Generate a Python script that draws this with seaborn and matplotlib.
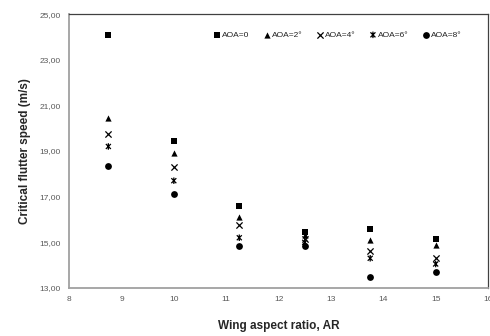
import matplotlib
matplotlib.use("Agg")
import matplotlib.pyplot as plt
from matplotlib.path import Path
import seaborn as sns
import pandas as pd

# wing aspect ratio and critical flutter speed (m/s) for each AOA
ar = [8.75, 10, 11.25, 12.5, 13.75, 15]
aoa0 = [24.1, 19.45, 16.6, 15.45, 15.6, 15.15]
aoa2 = [20.45, 18.9, 16.1, 15.3, 15.1, 14.9]
aoa4 = [19.75, 18.3, 15.75, 15.15, 14.6, 14.3]
aoa6 = [19.2, 17.7, 15.2, 15.0, 14.3, 14.05]
aoa8 = [18.35, 17.1, 14.85, 14.85, 13.5, 13.7]
labels = ["AOA=0", "AOA=2°", "AOA=4°", "AOA=6°", "AOA=8°"]
xticks = [8, 9, 10, 11, 12, 13, 14, 15, 16]
yticks = [13, 15, 17, 19, 21, 23, 25]

sns.set_style("white")
plt.rcParams["font.family"] = ["Liberation Sans", "DejaVu Sans"]

# x with a vertical bar, like the excel star marker
star = Path([(-1, -1), (1, 1), (-1, 1), (1, -1), (0, -1.3), (0, 1.3)],
            [Path.MOVETO, Path.LINETO, Path.MOVETO, Path.LINETO, Path.MOVETO, Path.LINETO])

series = [aoa0, aoa2, aoa4, aoa6, aoa8]
markers = ["s", "^", "x", star, "o"]
sizes = [24, 20, 20, 22, 24]

fig = plt.figure(figsize=(4.9, 3.36), dpi=100)
ax = fig.add_axes([0.141, 0.143, 0.855, 0.815])

for vals, lab, m, s in zip(series, labels, markers, sizes):
    df = pd.DataFrame({"AR": ar, "V": vals})
    if isinstance(m, Path):
        sns.scatterplot(data=df, x="AR", y="V", marker=m, s=s, facecolor="none",
                        edgecolor="black", linewidth=0.9, label=lab, ax=ax)
    elif m == "x":
        sns.scatterplot(data=df, x="AR", y="V", marker=m, s=s, color="black",
                        linewidth=0.9, label=lab, ax=ax)
    else:
        sns.scatterplot(data=df, x="AR", y="V", marker=m, s=s, color="black",
                        edgecolor="black", linewidth=0, label=lab, ax=ax)

ax.set_xlim(8, 16)
ax.set_ylim(13, 25)
ax.set_xticks(xticks)
ax.set_xticklabels([str(t) for t in xticks])
ax.set_yticks(yticks)
ax.set_yticklabels([f"{t:.2f}".replace(".", ",") for t in yticks])
ax.tick_params(axis="both", length=0, labelsize=6, colors="#595959", pad=6)

for side in ["left", "bottom"]:
    ax.spines[side].set_color("#a0a0a0")
    ax.spines[side].set_linewidth(1.3)
for side in ["top", "right"]:
    ax.spines[side].set_color("#404040")
    ax.spines[side].set_linewidth(0.9)

ax.set_xlabel("Wing aspect ratio, AR", fontsize=8.5, fontweight="bold", labelpad=12)
ax.set_ylabel("Critical flutter speed (m/s)", fontsize=8.5, fontweight="bold", labelpad=6)

leg = ax.legend(loc="upper right", bbox_to_anchor=(0.955, 0.965), ncol=5, frameon=False,
                fontsize=6, handletextpad=0.1, columnspacing=1.6, handlelength=1,
                markerscale=1.0)
for t in leg.get_texts():
    t.set_color("#222222")

fig.savefig("out.png", dpi=100)
